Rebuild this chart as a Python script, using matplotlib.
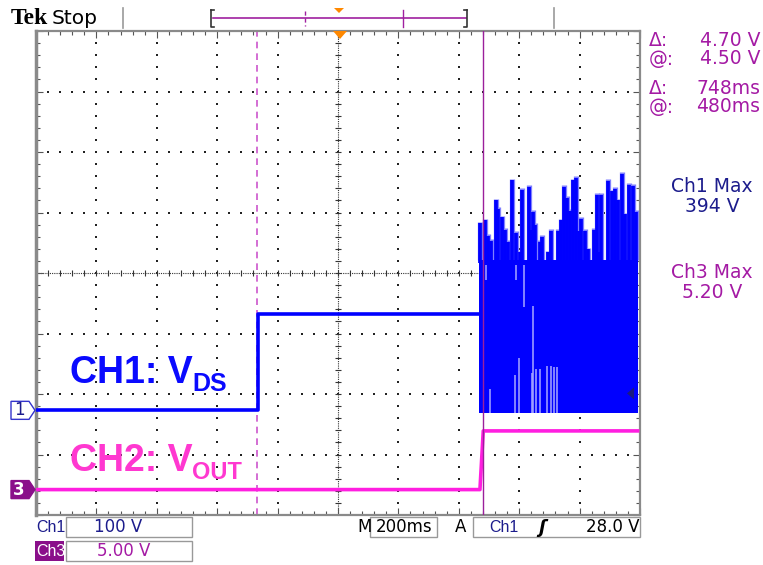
import matplotlib
matplotlib.use("Agg")
import numpy as np
import matplotlib.pyplot as plt
from matplotlib.patches import Polygon, Rectangle

# scope settings
time_div = 200.0      # ms / div
ch1_div = 100.0       # V / div
ch3_div = 5.0         # V / div
ch1_offset = -2.27    # ground position in divisions
ch3_offset = -3.58

# CH1 (V_DS) before the burst
ch1_t = [-1000, -265, -265, 468]
ch1_v = [0, 0, 160, 160]

# CH1 switching burst: solid band + spike peaks
burst_t = [468, 992]
burst_lo = -4
burst_hi = 248
spike_t = [470, 487, 497, 507, 523, 530, 543, 553, 563, 576, 589, 603, 609, 632,
           639, 646, 652, 669, 675, 695, 705, 718, 728, 738, 748, 758, 768, 778,
           788, 798, 805, 818, 828, 848, 858, 864, 871, 894, 907, 917, 927, 940,
           950, 963, 977, 987]
spike_v = [312, 317, 291, 283, 350, 336, 322, 301, 281, 383, 296, 264, 367, 372,
           301, 331, 309, 281, 289, 264, 299, 243, 299, 317, 372, 354, 332, 383,
           387, 299, 319, 299, 269, 301, 359, 264, 359, 382, 365, 369, 350, 394,
           327, 375, 374, 331]
# lighter streaks inside the band
streak_t = [490, 589, 616, 503, 586, 599, 642, 646, 656, 669, 692, 705, 715, 725]
streak_lo = [215, 215, 170, -4, -4, -4, -4, -4, -4, -4, -4, -4, -4, -4]
streak_hi = [240, 240, 240, 36, 58, 86, 61, 172, 68, 68, 74, 73, 71, 71]

# CH3 (V_OUT)
ch3_t = [-1000, 470, 481, 992]
ch3_v = [0, 0, 4.85, 4.85]

# cursors
cursor_t = [-268, 480]
trig_level = 28.0

W, H = 763, 565
L, R, T, B = 36, 640, 31, 515

BLUE = "#0000ff"
LIGHT = "#8080ff"
MAG = "#ff1ee0"
PURPLE = "#a41aa4"
DARKBLUE = "#1c1c8c"

fig = plt.figure(figsize=(W / 100, H / 100), dpi=100)
ax = fig.add_axes([L / W, 1 - B / H, (R - L) / W, (B - T) / H], zorder=1)
ax.set_xlim(-5 * time_div, 5 * time_div)
ax.set_ylim(-4, 4)


def y1(v):
    return ch1_offset + np.asarray(v, dtype=float) / ch1_div


def y3(v):
    return ch3_offset + np.asarray(v, dtype=float) / ch3_div


# graticule
gx = np.arange(-5, 5.001, 0.2) * time_div
gy = np.arange(-4, 4.001, 0.2)
for k in [-4, -3, -2, -1, 1, 2, 3, 4]:
    ax.scatter(np.full_like(gy, k * time_div), gy, s=1.5, marker="s", color="#222222", lw=0, zorder=1)
for k in [-3, -2, -1, 1, 2, 3]:
    ax.scatter(gx, np.full_like(gx, k), s=1.5, marker="s", color="#222222", lw=0, zorder=1)
ax.axhline(0, color="#333333", lw=0.8, ls=(0, (1, 1)), zorder=1)
ax.axvline(0, color="#333333", lw=0.8, ls=(0, (1, 1)), zorder=1)
ax.scatter(gx, np.zeros_like(gx), marker="|", s=14, color="#333333", lw=0.8, zorder=1)
ax.scatter(np.zeros_like(gy), gy, marker="_", s=14, color="#333333", lw=0.8, zorder=1)

ax.set_xticks(np.arange(-5, 6, 1) * time_div)
ax.set_xticks(gx, minor=True)
ax.set_yticks(np.arange(-4, 5, 1))
ax.set_yticks(gy, minor=True)
ax.tick_params(which="both", direction="in", top=True, right=True,
               labelbottom=False, labelleft=False, color="#555555", width=0.8)
ax.tick_params(which="major", length=5)
ax.tick_params(which="minor", length=3)
for s in ax.spines.values():
    s.set_color("#8a8a8a")
    s.set_linewidth(1.6)
ax.spines["left"].set_linewidth(2.5)

# cursors
ax.axvline(cursor_t[0], color="#cc55cc", lw=1.2, ls=(0, (4, 3)), zorder=2)
ax.axvline(cursor_t[1], color="#9b1f9b", lw=1.0, zorder=5)

# CH1 trace
ax.plot(ch1_t, y1(ch1_v), color=BLUE, lw=2.6, zorder=3)
ax.vlines(spike_t, y1(burst_hi), y1(spike_v), color=LIGHT, lw=3.8, zorder=3)
ax.fill_between(burst_t, y1(burst_lo), y1(burst_hi), color=BLUE, lw=0, zorder=3.1)
ax.vlines(spike_t, y1(burst_hi - 5), y1(np.asarray(spike_v) - 3), color=BLUE, lw=2.7, zorder=3.2)
ax.vlines(streak_t, y1(streak_lo), y1(streak_hi), color="#a8a8ff", lw=1.1, zorder=3.3)

# CH3 trace
ax.plot(ch3_t, y3(ch3_v), color=MAG, lw=2.6, zorder=4)

# overlay in pixel units for the screen furniture
ov = fig.add_axes([0, 0, 1, 1], zorder=5)
ov.set_xlim(0, W)
ov.set_ylim(H, 0)
ov.axis("off")
ov.patch.set_alpha(0)

px_div = (B - T) / 8.0


def gpx(off):
    return T + (4 - off) * px_div


# top bar
ov.text(11, 19, "Tek", family="Liberation Serif", weight="bold", fontsize=17, va="center")
ov.text(52, 18, "Stop", family="DejaVu Sans", fontsize=14.5, va="center")
ov.plot([123, 123], [8, 28], color="#999999", lw=1.2)
ov.plot([554, 554], [8, 28], color="#999999", lw=1.2)
ov.plot([213, 466], [18, 18], color="#a020a0", lw=1.2)
ov.plot([211, 211, 214], [10, 27, 27], color="#333333", lw=1.2)
ov.plot([211, 214], [10, 10], color="#333333", lw=1.2)
ov.plot([467, 467, 464], [10, 27, 27], color="#333333", lw=1.2)
ov.plot([467, 464], [10, 10], color="#333333", lw=1.2)
ov.plot([305, 305], [11, 26], color="#a020a0", lw=1.0, ls=(0, (3, 2)))
ov.plot([403, 403], [10, 27], color="#a020a0", lw=1.0)
ov.add_patch(Polygon([[334, 8], [344, 8], [339, 13]], color="#ff8800", lw=0))
tx = L + (0 + 5 * time_div) / (10 * time_div) * (R - L) + 2
ov.add_patch(Polygon([[tx - 7, 31], [tx + 7, 31], [tx, 39]], color="#ff8800", lw=0))

# ground markers
g1 = gpx(ch1_offset)
ov.add_patch(Polygon([[11, g1 - 9], [29, g1 - 9], [35, g1], [29, g1 + 9], [11, g1 + 9]],
                     facecolor="white", edgecolor="#3333cc", lw=1.0))
ov.text(19, g1, "1", color=DARKBLUE, fontsize=12, ha="center", va="center")
g3 = gpx(ch3_offset)
ov.add_patch(Polygon([[11, g3 - 9], [29, g3 - 9], [35, g3], [29, g3 + 9], [11, g3 + 9]],
                     facecolor="#8a0f8a", edgecolor="#8a0f8a", lw=1.0))
ov.text(19, g3, "3", color="white", fontsize=12, weight="bold", ha="center", va="center")

# trigger level marker
tl = gpx(ch1_offset + trig_level / ch1_div)
ov.add_patch(Polygon([[627, tl], [634, tl - 6], [634, tl + 6]], color="#1a1a80", lw=0))

# channel labels
ov.text(70, 383, "CH1: V", color="#0a0aff", family="Liberation Sans", weight="bold", fontsize=27)
ov.text(192, 391, "DS", color="#0a0aff", family="Liberation Sans", weight="bold", fontsize=18)
ov.text(70, 471, "CH2: V", color="#ff38d0", family="Liberation Sans", weight="bold", fontsize=27)
ov.text(192, 479, "OUT", color="#ff38d0", family="Liberation Sans", weight="bold", fontsize=17)

# right readouts
for yy, lab, val in [(41, "\u0394:", "4.70 V"), (59, "@:", "4.50 V"),
                     (89, "\u0394:", "748ms"), (107, "@:", "480ms")]:
    ov.text(649, yy, lab, color=PURPLE, fontsize=13.5, va="center")
    ov.text(760, yy, val, color=PURPLE, fontsize=13.5, va="center", ha="right")
ov.text(712, 187, "Ch1 Max", color=DARKBLUE, fontsize=13.5, va="center", ha="center")
ov.text(712, 207, "394 V", color=DARKBLUE, fontsize=13.5, va="center", ha="center")
ov.text(712, 273, "Ch3 Max", color=PURPLE, fontsize=13.5, va="center", ha="center")
ov.text(712, 292, "5.20 V", color=PURPLE, fontsize=13.5, va="center", ha="center")

# bottom readouts
ov.text(36, 527, "Ch1", color=DARKBLUE, family="Liberation Sans", fontsize=11.5, va="center")
ov.add_patch(Rectangle((66, 517), 126, 20, facecolor="white", edgecolor="#999999", lw=1))
ov.text(118, 527, "100 V", color=DARKBLUE, fontsize=12, va="center", ha="center")
ov.add_patch(Rectangle((35, 541), 29, 20, facecolor="#8a0f8a", lw=0))
ov.text(36, 551, "Ch3", color="white", family="Liberation Sans", fontsize=11.5, va="center")
ov.add_patch(Rectangle((66, 541), 126, 20, facecolor="white", edgecolor="#999999", lw=1))
ov.text(124, 551, "5.00 V", color=PURPLE, fontsize=12, va="center", ha="center")
ov.text(357, 527, "M", fontsize=12, va="center")
ov.add_patch(Rectangle((370, 517), 67, 20, facecolor="white", edgecolor="#999999", lw=1))
ov.text(404, 527, "200ms", fontsize=12, va="center", ha="center")
ov.text(455, 527, "A", fontsize=12, va="center")
ov.add_patch(Rectangle((473, 517), 167, 20, facecolor="white", edgecolor="#999999", lw=1))
ov.text(489, 527, "Ch1", color=DARKBLUE, family="Liberation Sans", fontsize=11.5, va="center")
ov.text(542, 528, "\u0283", fontsize=13, weight="bold", va="center", ha="center", style="italic")
ov.text(639, 527, "28.0 V", fontsize=12, va="center", ha="right")

fig.savefig("out.png", dpi=100)
